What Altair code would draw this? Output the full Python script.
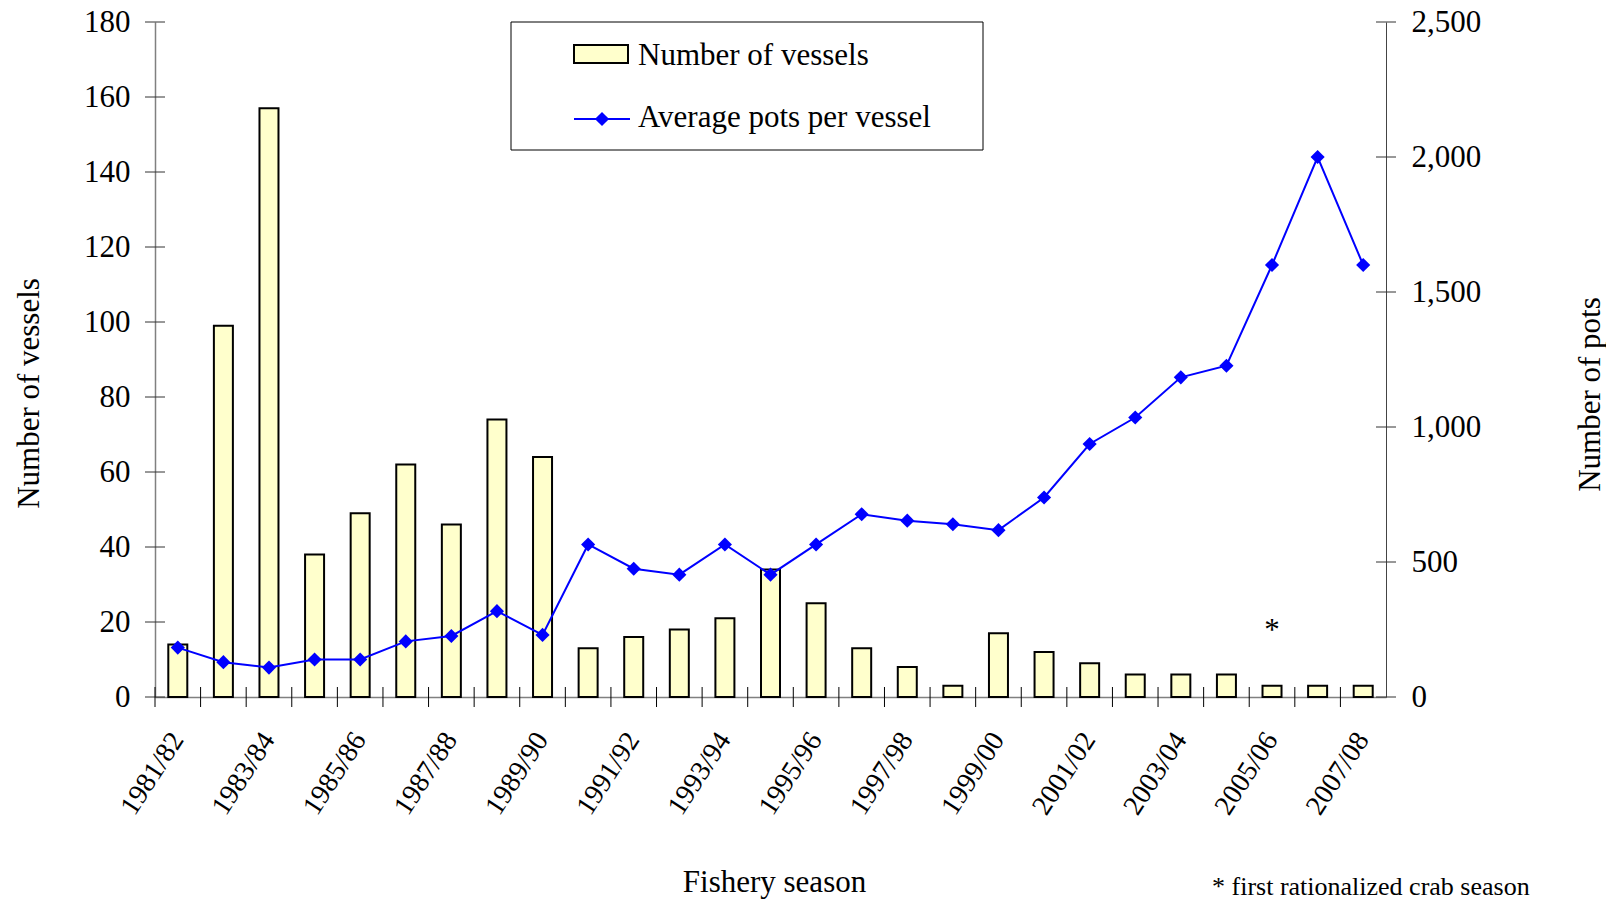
import altair as alt
import pandas as pd

seasons = ["1981/82", "1982/83", "1983/84", "1984/85", "1985/86", "1986/87", "1987/88",
           "1988/89", "1989/90", "1990/91", "1991/92", "1992/93", "1993/94", "1994/95",
           "1995/96", "1996/97", "1997/98", "1998/99", "1999/00", "2000/01", "2001/02",
           "2002/03", "2003/04", "2004/05", "2005/06", "2006/07", "2007/08"]
vessels = [14, 99, 157, 38, 49, 62, 46, 74, 64, 13, 16, 18, 21, 34, 25, 13, 8, 3, 17, 12, 9,
           6, 6, 6, 3, 3, 3]
pots = [183, 129, 109, 139, 139, 206, 226, 318, 230, 565, 475, 453, 565, 453, 565, 677, 653,
        640, 618, 739, 937, 1035, 1184, 1227, 1600, 2000, 1600]
label_seasons = seasons[::2]
left_ticks = [0, 20, 40, 60, 80, 100, 120, 140, 160, 180]
right_ticks = [0, 500, 1000, 1500, 2000, 2500]
legend_labels = ["Number of vessels", "Average pots per vessel"]
note_season = ["2005/06"]
note_value = [15.3]
footnote = "* first rationalized crab season"

W, H = 1231, 675
FONT = "Liberation Serif"
FS = 31
FILL = "#FFFFCC"
BLUE = "#0000FF"

df = pd.DataFrame({"season": seasons, "vessels": vessels, "pots": pots})
xscale = alt.Scale(domain=seasons, paddingInner=0, paddingOuter=0)
one = pd.DataFrame({"a": [0]})

# the same x axis is given to every layer that has an x channel, so that they merge
x_axis = alt.Axis(values=label_seasons, ticks=False, labelAngle=303,
                  labelAlign="right", labelBaseline="middle", labelPadding=38,
                  labelFontSize=28, labelFont=FONT, labelColor="black",
                  domainColor="#808080", domainWidth=1.5,
                  title="Fishery season", titleFont=FONT, titleFontSize=FS,
                  titleFontWeight="normal", titleColor="black",
                  titleX=619, titleY=194, titleBaseline="alphabetic")


def xenc(**kw):
    return alt.X("season:N", scale=xscale, sort=seasons, axis=x_axis, **kw)


bars = alt.Chart(df).mark_bar(size=19, fill=FILL, stroke="black", strokeWidth=2).encode(
    x=xenc(),
    y=alt.Y("vessels:Q", scale=alt.Scale(domain=[0, 180], nice=False),
            axis=alt.Axis(orient="left", values=left_ticks, ticks=False,
                          labelPadding=25, labelFontSize=FS, labelFont=FONT,
                          labelColor="black", domainColor="#808080", domainWidth=1.5,
                          grid=False, title="Number of vessels", titleFont=FONT,
                          titleFontSize=FS, titleFontWeight="normal", titleColor="black",
                          titleX=-126, titleY=371, titleAngle=270, titleBaseline="middle",
                          titleAlign="center")),
)

left_tick_rules = alt.Chart(pd.DataFrame({"v": left_ticks})).mark_rule(
    color="#333333", strokeWidth=1).encode(
    y=alt.Y("v:Q", scale=alt.Scale(domain=[0, 180], nice=False), axis=None),
    x=alt.value(-10), x2=alt.value(10),
)

line = alt.Chart(df).mark_line(color=BLUE, strokeWidth=2).encode(
    x=xenc(),
    y=alt.Y("pots:Q", scale=alt.Scale(domain=[0, 2500], nice=False),
            axis=alt.Axis(orient="right", values=right_ticks, format=",.0f", ticks=False,
                          labelPadding=25, labelFontSize=FS, labelFont=FONT,
                          labelColor="black", domainColor="#444444", domainWidth=1,
                          grid=False, title="Number of pots", titleFont=FONT,
                          titleFontSize=FS, titleFontWeight="normal", titleColor="black",
                          titleX=204, titleY=372, titleAngle=270, titleBaseline="middle",
                          titleAlign="center")),
)
points = alt.Chart(df).mark_point(shape="diamond", filled=True, size=200, color=BLUE,
                                  opacity=1).encode(
    x=xenc(),
    y=alt.Y("pots:Q", scale=alt.Scale(domain=[0, 2500], nice=False), axis=None),
)
right_tick_rules = alt.Chart(pd.DataFrame({"v": right_ticks})).mark_rule(
    color="#333333", strokeWidth=1).encode(
    y=alt.Y("v:Q", scale=alt.Scale(domain=[0, 2500], nice=False), axis=None),
    x=alt.value(W - 10), x2=alt.value(W + 10),
)

x_tick_rules = alt.Chart(pd.DataFrame({"season": seasons})).mark_rule(
    color="black", strokeWidth=1).encode(
    x=xenc(bandPosition=0),
    y=alt.value(H - 10), y2=alt.value(H + 10),
)

note = alt.Chart(pd.DataFrame({"season": note_season, "v": note_value})).mark_text(
    text="*", font=FONT, fontSize=FS, baseline="alphabetic", align="center",
    color="black").encode(
    x=xenc(),
    y=alt.Y("v:Q", scale=alt.Scale(domain=[0, 180], nice=False), axis=None),
)

# legend box (drawn by hand, as in the original)
leg_box = alt.Chart(one).mark_rect(fill="white", stroke="black", strokeWidth=1).encode(
    x=alt.value(356), x2=alt.value(828), y=alt.value(0), y2=alt.value(128))
leg_swatch = alt.Chart(one).mark_rect(fill=FILL, stroke="black", strokeWidth=2).encode(
    x=alt.value(419), x2=alt.value(473), y=alt.value(23), y2=alt.value(41))
leg_line = alt.Chart(one).mark_rule(color=BLUE, strokeWidth=2).encode(
    x=alt.value(419), x2=alt.value(475), y=alt.value(97))
leg_pt = alt.Chart(one).mark_point(shape="diamond", filled=True, size=200, color=BLUE,
                                   opacity=1).encode(x=alt.value(447), y=alt.value(97))
leg_t1 = alt.Chart(one).mark_text(text=legend_labels[0], font=FONT, fontSize=FS,
                                  align="left", baseline="alphabetic", color="black").encode(
    x=alt.value(483), y=alt.value(43))
leg_t2 = alt.Chart(one).mark_text(text=legend_labels[1], font=FONT, fontSize=FS,
                                  align="left", baseline="alphabetic", color="black").encode(
    x=alt.value(483), y=alt.value(105))
foot = alt.Chart(one).mark_text(text=footnote, font=FONT, fontSize=26, align="left",
                                baseline="alphabetic", color="black").encode(
    x=alt.value(1057), y=alt.value(873))

chart = alt.layer(
    bars, line, points, left_tick_rules, right_tick_rules, x_tick_rules, note,
    leg_box, leg_swatch, leg_line, leg_pt, leg_t1, leg_t2, foot
).resolve_scale(y="independent").properties(
    width=W, height=H,
    autosize=alt.AutoSizeParams(type="none"),
    padding={"left": 147, "top": 14, "right": 220, "bottom": 204},
).configure(font=FONT).configure_view(stroke=None)

chart.save("out.html", embed_options={"renderer": "svg", "actions": False})
